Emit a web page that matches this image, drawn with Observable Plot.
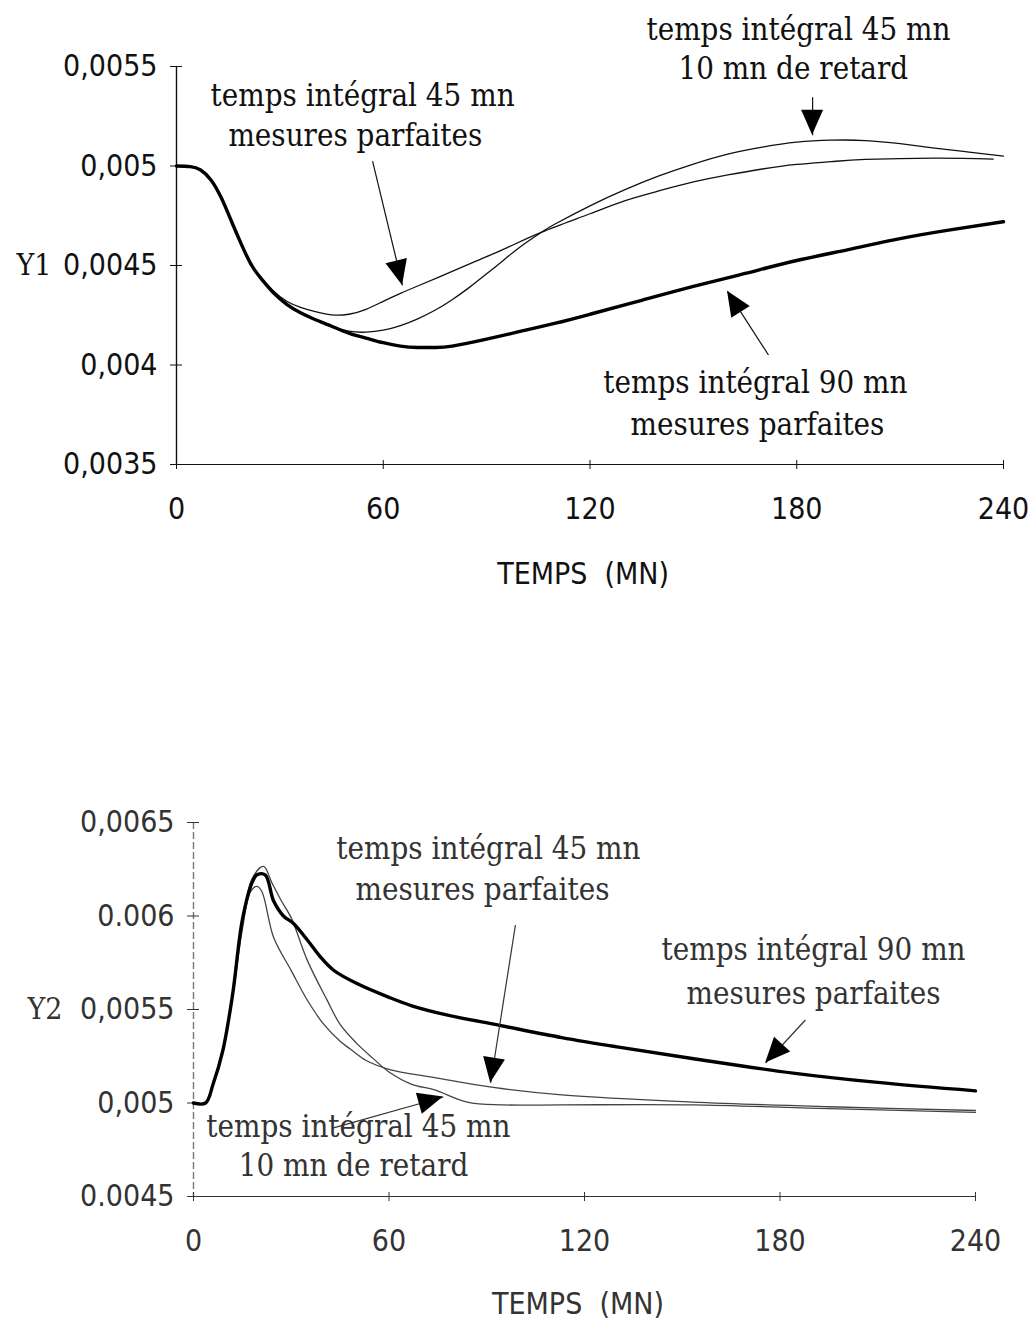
<!DOCTYPE html>
<html><head><meta charset="utf-8">
<script src="https://cdn.jsdelivr.net/npm/d3@7"></script>
<script src="https://cdn.jsdelivr.net/npm/@observablehq/plot@0.6"></script>
<style>
html,body{margin:0;padding:0;background:#fff}
body{width:1033px;height:1323px;position:relative;overflow:hidden}
#c1{position:absolute;left:0;top:0}
#c2{position:absolute;left:0;top:700px}
</style></head><body><div id="c1"></div><div id="c2"></div>
<script>
// ---------- DATA : panel 1 (Y1) ----------
const y1_t_90 = [0,4,7,10,13,16,19,22,25,28,32,36,40,45,50,55,60,65,70,75,80,90,100,110,120,135,150,165,180,195,210,225,240];
const y1_v_90 = [0.005,0.004997,0.00498,0.00493,0.00484,0.00472,0.0046,0.004495,0.004425,0.004365,0.004305,0.004262,0.00423,0.004195,0.00416,0.004135,0.004112,0.004095,0.004088,0.004088,0.004095,0.00413,0.00417,0.00421,0.004255,0.004325,0.004395,0.00446,0.004525,0.00458,0.004635,0.00468,0.00472];
const y1_t_45p = [0,4,7,10,13,16,19,22,25,28,32,36,40,45,50,55,60,65,70,80,88,96,106,120,130,140,150,160,170,180,190,200,220,237];
const y1_v_45p = [0.005,0.004997,0.00498,0.00493,0.00484,0.00472,0.0046,0.004497,0.00443,0.004375,0.00432,0.00429,0.00427,0.004252,0.004255,0.00428,0.00432,0.00436,0.004397,0.00447,0.00453,0.00459,0.004668,0.00476,0.004825,0.004875,0.00492,0.004955,0.004985,0.005008,0.005022,0.005033,0.00504,0.005035];
const y1_t_45r = [0,4,7,10,13,16,19,22,25,28,32,36,40,45,50,55,60,65,70,75,80,85,90,95,100,106,110,120,130,140,150,160,170,180,190,200,210,220,230,240];
const y1_v_45r = [0.005,0.004997,0.00498,0.00493,0.00484,0.00472,0.0046,0.004495,0.004425,0.004365,0.004303,0.00426,0.00423,0.004195,0.00417,0.004165,0.004175,0.004198,0.004232,0.004275,0.004328,0.00439,0.004458,0.004528,0.004597,0.004668,0.00471,0.0048,0.00488,0.00495,0.00501,0.00506,0.005095,0.00512,0.00513,0.005128,0.005112,0.00509,0.00507,0.00505];

// ---------- DATA : panel 2 (Y2) ----------
const y2_t_90 = [0,3.7,6,9,12,15,18,19.5,22,24.6,27.6,30.7,35,39,43,50,60,67,78,94,113,130,153,184,210,240];
const y2_v_90 = [0.005,0.005,0.0051,0.00528,0.00558,0.00598,0.00618,0.00622,0.00622,0.00608,0.006,0.00596,0.00587,0.00578,0.00571,0.00564,0.005565,0.00552,0.00547,0.005415,0.00535,0.0053,0.005238,0.00516,0.00511,0.005065];
const y2_t_45p = [0,3.7,6,9,12,15,17.5,19.5,21,24.6,30,35,40,45,48,53,60,74,92,113,153,195,240];
const y2_v_45p = [0.005,0.005,0.0051,0.00528,0.00557,0.00593,0.00613,0.006158,0.00613,0.005885,0.005708,0.005548,0.00542,0.00533,0.00529,0.005227,0.00518,0.005136,0.005083,0.005043,0.005005,0.00498,0.00496];
const y2_t_45r = [0,3.7,6,9,12,15,18,21.5,24,27,30,35,41,45,50,55,60,67,74,84,95,113,153,195,240];
const y2_v_45r = [0.005,0.005,0.0051,0.00528,0.00558,0.00596,0.0062,0.006265,0.00618,0.00608,0.00599,0.00576,0.00555,0.00542,0.00532,0.00524,0.005166,0.0051,0.00507,0.005005,0.00499,0.00499,0.00499,0.00497,0.00495];

// ---------- TICKS ----------
const xTicks = [0,60,120,180,240];
const y1Ticks = [0.0035,0.004,0.0045,0.005,0.0055];
const y1Labels = ["0,0035","0,004","0,0045","0,005","0,0055"];
const y2Ticks = [0.0045,0.005,0.0055,0.006,0.0065];
const y2Labels = ["0.0045","0,005","0,0055","0.006","0,0065"];
const xTitle = "TEMPS  (MN)";

// ---------- ANNOTATIONS (data units) ----------
const y1Notes = [
  {t:54, v:0.00535, s:"temps intégral 45 mn"}, {t:51.9, v:0.00515, s:"mesures parfaites"},
  {t:180.5, v:0.005685, s:"temps intégral 45 mn"}, {t:179, v:0.005485, s:"10 mn de retard"},
  {t:168, v:0.00391, s:"temps intégral 90 mn"}, {t:168.6, v:0.0037, s:"mesures parfaites"}
];
const y1Arrows = [
  {t1:56.9, v1:0.005025, t2:65.6, v2:0.0044},
  {t1:184.6, v1:0.005345, t2:184.6, v2:0.005155},
  {t1:171.8, v1:0.00405, t2:159.9, v2:0.00437}
];
const y2Notes = [
  {t:90.5, v:0.006358, s:"temps intégral 45 mn"}, {t:88.7, v:0.006139, s:"mesures parfaites"},
  {t:190.3, v:0.005818, s:"temps intégral 90 mn"}, {t:190.3, v:0.005583, s:"mesures parfaites"},
  {t:50.6, v:0.004872, s:"temps intégral 45 mn"}, {t:49.1, v:0.004663, s:"10 mn de retard"}
];
const y2Arrows = [
  {t1:98.8, v1:0.005952, t2:91.2, v2:0.005107},
  {t1:187.8, v1:0.005444, t2:175.6, v2:0.005214},
  {t1:42.7, v1:0.004866, t2:76.7, v2:0.005032}
];

const serif = "'DejaVu Serif Condensed','DejaVu Serif',serif";
const narrow = "'Liberation Sans Narrow','DejaVu Sans Condensed','DejaVu Sans',sans-serif";
const pts = (t, v) => t.map((d, i) => ({t: d, v: v[i]}));

function heads(arrows, len, wid, color) {
  return (index, scales) => {
    const ns = "http://www.w3.org/2000/svg";
    const g = document.createElementNS(ns, "g");
    for (const a of arrows) {
      const x1 = scales.x(a.t1), y1 = scales.y(a.v1), x2 = scales.x(a.t2), y2 = scales.y(a.v2);
      const dx = x2 - x1, dy = y2 - y1, L = Math.hypot(dx, dy), ux = dx / L, uy = dy / L;
      const bx = x2 - ux * len, by = y2 - uy * len, px = -uy * wid / 2, py = ux * wid / 2;
      const p = document.createElementNS(ns, "polygon");
      p.setAttribute("points", `${x2},${y2} ${bx + px},${by + py} ${bx - px},${by - py}`);
      p.setAttribute("fill", color);
      g.appendChild(p);
    }
    return g;
  };
}

function panel(o) {
  return Plot.plot({
    width: 1033, height: o.height,
    marginTop: o.mt, marginBottom: o.mb, marginLeft: o.ml, marginRight: o.mr,
    style: `background:#fff;font-family:${serif};font-stretch:condensed;color:${o.ink}`,
    x: {domain: [0, 240], axis: null},
    y: {domain: o.domain, axis: null},
    marks: [
      Plot.ruleX([0], {stroke: o.axisInk, strokeWidth: 1.4, strokeDasharray: o.dash}),
      Plot.ruleY([o.domain[0]], {stroke: o.ink, strokeWidth: 1.2}),
      Plot.axisY({ticks: o.yTicks, tickFormat: d => o.yLabels[o.yTicks.indexOf(d)], tickSize: 12, dx: 6, tickPadding: 13,
        fontSize: 30, fontFamily: narrow, stroke: o.ink, fill: o.ink, textStroke: "none"}),
      Plot.axisX({ticks: xTicks, tickSize: 9, dy: -4, tickPadding: 28, fontSize: 30, fontFamily: narrow, stroke: o.ink, fill: o.ink, label: null}),
      Plot.text([o.xTitle], {x: 118, frameAnchor: "bottom", dy: o.titleDy, fontSize: 30, fontFamily: narrow, fill: o.ink}),
      Plot.text([o.yName], {frameAnchor: "left", y: o.yNameAt, dx: o.yNameDx, textAnchor: "start", fontSize: 30, fontFamily: serif, fill: o.ink}),
      Plot.line(pts(o.t45p, o.v45p), {x: "t", y: "v", stroke: o.thin, strokeWidth: 1.3, curve: o.curve}),
      Plot.line(pts(o.t45r, o.v45r), {x: "t", y: "v", stroke: o.thin, strokeWidth: 1.3, curve: o.curve}),
      Plot.line(pts(o.t90, o.v90), {x: "t", y: "v", stroke: "#000", strokeWidth: 3.4, curve: o.curve}),
      Plot.link(o.arrows, {x1: "t1", y1: "v1", x2: "t2", y2: "v2", stroke: o.ink, strokeWidth: 1.2}),
      heads(o.arrows, 25, 22, "#000"),
      Plot.text(o.notes, {x: "t", y: "v", text: "s", fontSize: 31, fontFamily: serif, fill: o.ink})
    ]
  });
}

document.getElementById("c1").appendChild(panel({
  height: 620, mt: 66, mb: 156, ml: 176, mr: 30,
  domain: [0.0035, 0.0055], yTicks: y1Ticks, yLabels: y1Labels,
  ink: "#111", axisInk: "#111", thin: "#111", dash: null, curve: "natural",
  xTitle, titleDy: 119, yName: "Y1", yNameAt: 0.0045, yNameDx: -160,
  t90: y1_t_90, v90: y1_v_90, t45p: y1_t_45p, v45p: y1_v_45p, t45r: y1_t_45r, v45r: y1_v_45r,
  notes: y1Notes, arrows: y1Arrows
}));
document.getElementById("c2").appendChild(panel({
  height: 623, mt: 122, mb: 127, ml: 193, mr: 58,
  domain: [0.0045, 0.0065], yTicks: y2Ticks, yLabels: y2Labels,
  ink: "#333", axisInk: "#777", thin: "#444", dash: "7,3", curve: "catmull-rom",
  xTitle, titleDy: 117, yName: "Y2", yNameAt: 0.0055, yNameDx: -166,
  t90: y2_t_90, v90: y2_v_90, t45p: y2_t_45p, v45p: y2_v_45p, t45r: y2_t_45r, v45r: y2_v_45r,
  notes: y2Notes, arrows: y2Arrows
}));
</script>
</body></html>
